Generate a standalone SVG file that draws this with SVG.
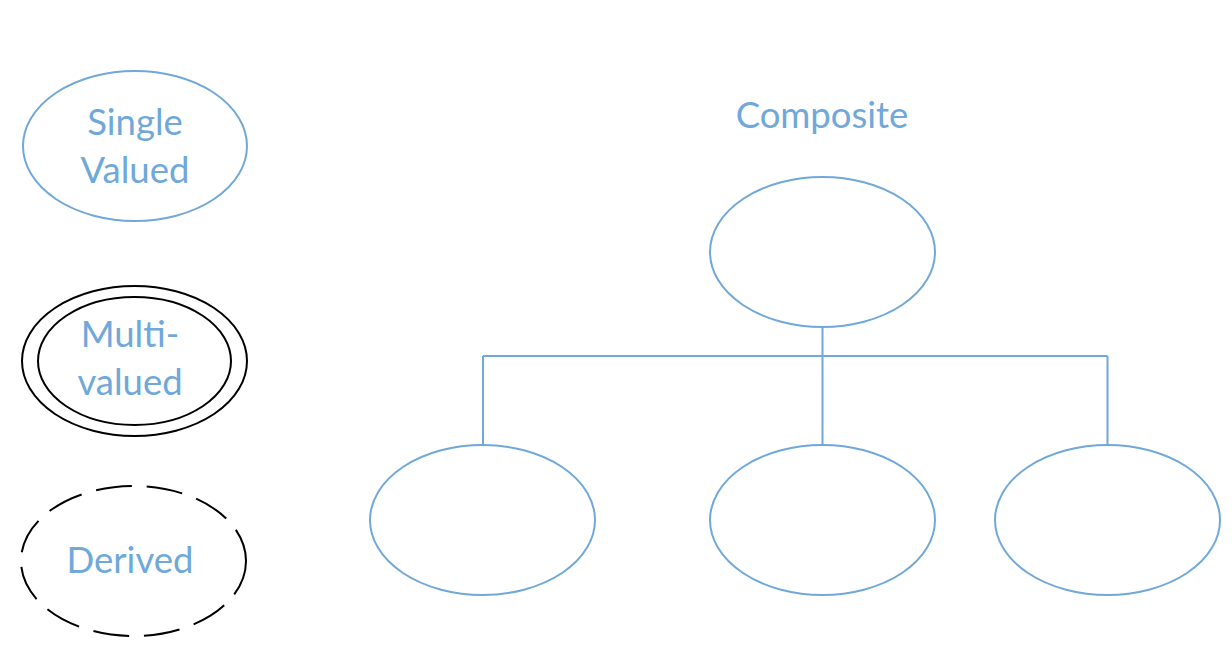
<svg xmlns="http://www.w3.org/2000/svg" width="1232" height="654" viewBox="0 0 1232 654">
<style>
.b{fill:#fff;stroke:#70A8DA;stroke-width:2}
.k{fill:#fff;stroke:#000;stroke-width:2}
.t{font-family:Lato,"Liberation Sans",sans-serif;font-size:36.5px;fill:#70A8DA;text-anchor:middle}
.c{fill:none;stroke:#70A8DA;stroke-width:2}
</style>
<rect width="1232" height="654" fill="#fff"/>
<g id="single">
<ellipse class="b" cx="135" cy="146" rx="112" ry="75"/>
<text class="t" x="135" y="135">Single</text>
<text class="t" x="135" y="183">Valued</text>
</g>
<g id="multi">
<ellipse class="k" cx="134.5" cy="361" rx="112.5" ry="75"/>
<ellipse class="k" cx="134.5" cy="361" rx="96.5" ry="64"/>
<text class="t" x="130" y="347">Multi-</text>
<text class="t" x="130" y="395">valued</text>
</g>
<g id="derived">
<ellipse class="k" cx="133.5" cy="561" rx="112.5" ry="75" stroke-dasharray="36,15"/>
<text class="t" x="130" y="573">Derived</text>
</g>
<g id="composite-label">
<text class="t" x="822" y="128">Composite</text>
</g>
<g id="connectors">
<path class="c" d="M822.5 327V356M483 356H1107.5M483 356V445M822.5 356V445M1107.5 356V445"/>
</g>
<g id="composite">
<ellipse class="b" cx="822.5" cy="252" rx="112.5" ry="75"/>
</g>
<g id="part1"><ellipse class="b" cx="482.5" cy="520" rx="112.5" ry="75"/></g>
<g id="part2"><ellipse class="b" cx="822.5" cy="520" rx="112.5" ry="75"/></g>
<g id="part3"><ellipse class="b" cx="1107.5" cy="520" rx="112.5" ry="75"/></g>
</svg>
